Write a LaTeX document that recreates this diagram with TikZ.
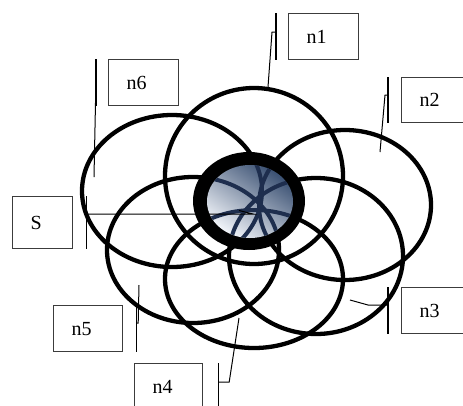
\documentclass[tikz,border=0pt]{standalone}
\usepackage{fontspec}
\setmainfont{Liberation Serif}
\usetikzlibrary{calc}
\definecolor{navyline}{RGB}{30,46,78}
\definecolor{discdark}{RGB}{58,80,114}
\definecolor{disclight}{RGB}{242,245,250}
\definecolor{boxline}{RGB}{60,60,60}
\begin{document}
\begin{tikzpicture}[x=1pt,y=-1pt,
  petal/.style={line width=4.3pt},
  box/.style={draw=boxline, line width=1.2pt, fill=white, minimum height=46pt,
    text width=34pt, inner xsep=18pt, inner ysep=0pt, align=left,
    font=\fontsize{20}{22}\selectfont, anchor=north west},
  bar/.style={line width=1.3pt},
  lead/.style={line width=1pt}]
\useasboundingbox (0,0) rectangle (463,405);
% six petals
\foreach \cx/\cy/\rx/\ry in {254/176/89/88, 345/205/86/75, 316/256/87/78,
    254/279/89/69, 193/250/86/73, 172/191/90/76}
  \draw[petal] (\cx,\cy) ellipse [x radius=\rx pt, y radius=\ry pt];
% central ring and disc
\fill (249,201) ellipse [x radius=56pt, y radius=49pt];
\shade[left color=discdark, right color=disclight, shading angle=-35]
  (250,201.5) ellipse [x radius=43pt, y radius=36.5pt];
\begin{scope}
  \clip (250,201.5) ellipse [x radius=43pt, y radius=36.5pt];
  \foreach \cx/\cy/\rx/\ry in {254/176/89/88, 345/205/86/75, 316/256/87/78,
      254/279/89/69, 193/250/86/73, 172/191/90/76}
    \draw[petal, draw=navyline, line width=4pt] (\cx,\cy) ellipse [x radius=\rx pt, y radius=\ry pt];
\end{scope}
% boxes
\node[box] (n1) at (288,13) {n1};
\node[box, minimum height=45pt] (n2) at (401,77) {n2};
\node[box] (n6) at (108,59) {n6};
\node[box, text width=24pt, minimum height=52pt] (S) at (12,196) {S};
\node[box] (n3) at (401,287) {n3};
\node[box, text width=33pt] (n5) at (53,305) {n5};
\node[box, text width=32pt] (n4) at (134,363) {n4};
% accent bars
\draw[bar] ($(n1.north west)+(-12,0)$) -- ($(n1.south west)+(-12,0)$);
\draw[bar] ($(n2.north west)+(-13,0)$) -- ($(n2.south west)+(-13,0)$);
\draw[bar] ($(n6.north west)+(-12,0)$) -- ($(n6.south west)+(-12,0)$);
\draw[bar] ($(S.north east)+(13,0)$) -- ($(S.south east)+(13,0)$);
\draw[bar] ($(n3.north west)+(-13,0)$) -- ($(n3.south west)+(-13,0)$);
\draw[bar] ($(n5.north east)+(13,0)$) -- ($(n5.south east)+(13,0)$);
\draw[bar] ($(n4.north east)+(15,0)$) -- ($(n4.south east)+(15,0)$);
% leader end points
\coordinate (e1) at (268,87);
\coordinate (e2) at (380,152);
\coordinate (e6) at (94,177);
\coordinate (eS) at (253,214);
\coordinate (e3) at (350,300);
\coordinate (e5) at (139,285);
\coordinate (e4) at (239,318);
% leaders
\draw[lead] ($(n1.north west)+(-12,19)$) -- ++(-4,0) -- (e1);
\draw[lead] ($(n2.north west)+(-13,18)$) -- ++(-3,0) -- (e2);
\draw[lead] ($(n6.north west)+(-12,19)$) -- (e6);
\draw[lead] ($(S.north east)+(13,18)$) -- (eS) -- ++(-14,-3.5);
\draw[lead] ($(n3.north west)+(-13,18)$) -- ++(-20,0) -- (e3);
\draw[lead] ($(n5.north east)+(13,18)$) -- ++(2,0) -- (e5);
\draw[lead] ($(n4.north east)+(15,19)$) -- ++(11,0) -- (e4);
\end{tikzpicture}
\end{document}
